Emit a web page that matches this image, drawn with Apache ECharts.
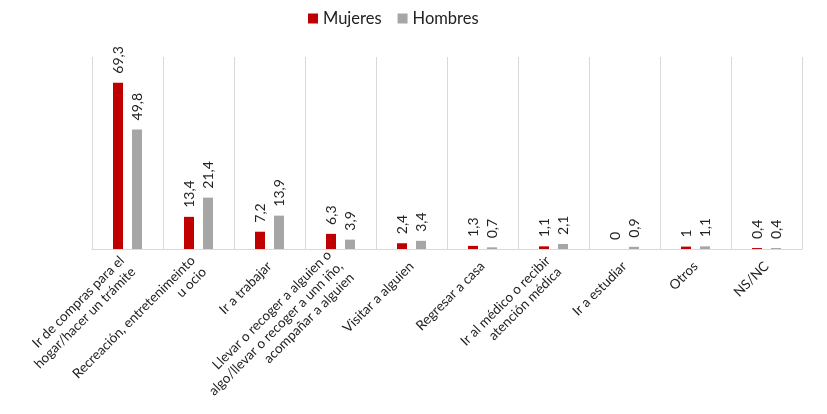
<!DOCTYPE html>
<html><head><meta charset="utf-8">
<script src="https://cdn.jsdelivr.net/npm/echarts@6/dist/echarts.min.js"></script>
<style>html,body{margin:0;padding:0;background:#fff}#c{width:827px;height:414px}</style>
</head><body><div id="c"></div>
<script>
const categories = [
  "Ir de compras para el\nhogar/hacer un trámite",
  "Recreación, entretenimeinto\nu ocio",
  "Ir a trabajar",
  "Llevar o recoger a alguien o\nalgo/llevar o recoger a unn iño,\nacompañar a alguien",
  "Visitar a alguien",
  "Regresar a casa",
  "Ir al médico o recibir\natención médica",
  "Ir a estudiar",
  "Otros",
  "NS/NC"
];
const mujeres = [69.3, 13.4, 7.2, 6.3, 2.4, 1.3, 1.1, 0, 1, 0.4];
const hombres = [49.8, 21.4, 13.9, 3.9, 3.4, 0.7, 2.1, 0.9, 1.1, 0.4];

const fontFam = "Lato, 'Open Sans', sans-serif";
const lbl = {
  show: true, position: 'top', rotate: 90, align: 'left', verticalAlign: 'middle',
  distance: 9, fontSize: 14, color: '#222', fontFamily: fontFam,
  formatter: p => String(p.value).replace('.', ',')
};
const chart = echarts.init(document.getElementById('c'));
chart.setOption({
  animation: false,
  textStyle: { fontFamily: fontFam },
  legend: {
    top: 5, left: 303, itemWidth: 10, itemHeight: 10, itemGap: 16,
    icon: 'rect', textStyle: { fontSize: 16.5, color: '#222', fontFamily: fontFam },
    data: ['Mujeres', 'Hombres']
  },
  grid: { left: 92, right: 25, top: 57, bottom: 165 },
  xAxis: {
    type: 'category', data: categories,
    axisLine: { lineStyle: { color: '#d9d9d9' } },
    axisTick: { show: false },
    splitLine: { show: true, lineStyle: { color: '#d9d9d9' } },
    axisLabel: { interval: 0, rotate: 45, fontSize: 13.5, color: '#222', margin: 15, fontFamily: fontFam, lineHeight: 16 }
  },
  yAxis: { type: 'value', min: 0, max: 80, show: false, splitLine: { show: false } },
  series: [
    { name: 'Mujeres', type: 'bar', data: mujeres, barWidth: 10, barGap: '90%', itemStyle: { color: '#c00000' }, label: lbl },
    { name: 'Hombres', type: 'bar', data: hombres, barWidth: 10, itemStyle: { color: '#a6a6a6' }, label: lbl }
  ]
});
</script></body></html>
